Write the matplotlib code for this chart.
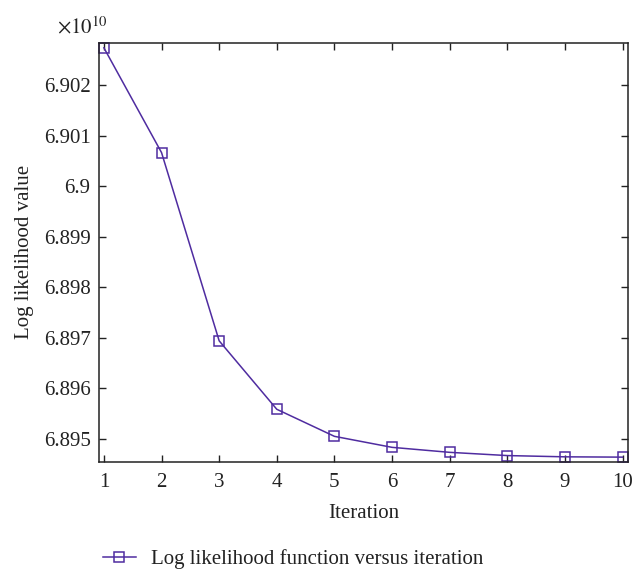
import matplotlib
matplotlib.use("Agg")
import matplotlib.pyplot as plt
from matplotlib.ticker import FuncFormatter

# valores
iteraciones = [1, 2, 3, 4, 5, 6, 7, 8, 9, 10]
log_vero = [6.902745e10, 6.900669e10, 6.896940e10, 6.895584e10, 6.895048e10,
            6.894830e10, 6.894731e10, 6.894667e10, 6.894642e10, 6.894636e10]
y_ticks = [6.895e10, 6.896e10, 6.897e10, 6.898e10, 6.899e10, 6.900e10, 6.901e10, 6.902e10]
etiqueta = "Log likelihood function versus iteration"

plt.rcParams["font.family"] = ["Liberation Serif", "DejaVu Serif"]
plt.rcParams["mathtext.fontset"] = "stix"
color = "#4f2ca0"
gris = "#222222"

fig = plt.figure(figsize=(6.34, 5.75), dpi=100)
ax = fig.add_axes([0.156, 0.197, 0.835, 0.728])

ax.plot(iteraciones, log_vero, "-s", color=color, lw=1.1, ms=7,
        mfc="none", mec=color, mew=1.1, label=etiqueta, clip_on=False)

ax.set_xlim(0.913, 10.1)
ax.set_ylim(6.894545e10, 6.902838e10)
ax.set_xticks(iteraciones)
ax.set_yticks(y_ticks)
ax.yaxis.set_major_formatter(FuncFormatter(lambda v, p: f"{v / 1e10:g}"))
ax.tick_params(direction="in", top=True, right=True, length=5, width=1,
               labelsize=15, colors=gris)
ax.tick_params(axis="x", pad=8)
ax.tick_params(axis="y", pad=6)
for s in ax.spines.values():
    s.set_color(gris)
    s.set_linewidth(1.1)

ax.text(-0.08, 1.012, r"$\times 10^{10}$", transform=ax.transAxes,
        fontsize=15, ha="left", va="bottom", color=gris)

ax.set_xlabel("Iteration", fontsize=15, color=gris, labelpad=9)
ax.set_ylabel("Log likelihood value", fontsize=15, color=gris, labelpad=7)

fig.legend(loc="center", bbox_to_anchor=(0.462, 0.028), frameon=False,
           fontsize=15, handlelength=1.6, handletextpad=0.7, labelcolor=gris)

fig.savefig("out.png", dpi=100)
